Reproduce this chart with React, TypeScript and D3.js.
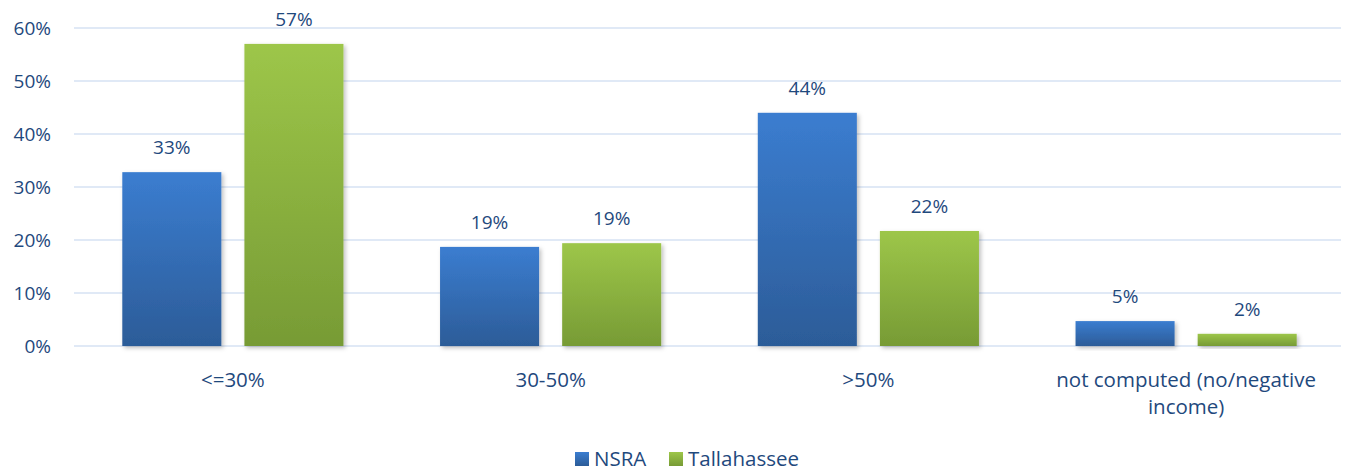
import React from 'react';
import * as d3 from 'd3';

const categories = ['<=30%', '30-50%', '>50%', 'not computed (no/negative income)'];
const categoryLines = [['<=30%'], ['30-50%'], ['>50%'], ['not computed (no/negative', 'income)']];
const seriesNames = ['NSRA', 'Tallahassee'];
const nsra = [0.328, 0.187, 0.44, 0.047];
const tallahassee = [0.57, 0.194, 0.217, 0.023];
const yTicks = [0, 0.1, 0.2, 0.3, 0.4, 0.5, 0.6];

const W = 1346;
const H = 472;
const margin = { left: 74, right: 1, top: 28, bottom: 126 };
const textColor = '#1f497d';
const font = '"Open Sans", "Noto Sans", sans-serif';

const App: React.FC = () => {
  const x = d3.scaleBand<string>()
    .domain(categories)
    .range([margin.left, W - margin.right])
    .paddingInner(0.304)
    .paddingOuter(0.152);
  const sub = d3.scaleBand<string>()
    .domain(seriesNames)
    .range([0, x.bandwidth()])
    .paddingInner(0.189);
  const y = d3.scaleLinear().domain([0, 0.6]).range([H - margin.bottom, margin.top]);
  const fmt = d3.format('.0%');
  const series = [nsra, tallahassee];
  const fills = ['url(#gBlue)', 'url(#gGreen)'];

  return (
    <svg width={W} height={H} style={{ position: 'absolute', left: 0, top: 0 }} fontFamily={font}>
      <defs>
        <linearGradient id="gBlue" x1="0" y1="0" x2="0" y2="1">
          <stop offset="0" stopColor="#3b7dd0" />
          <stop offset="1" stopColor="#2c5c98" />
        </linearGradient>
        <linearGradient id="gGreen" x1="0" y1="0" x2="0" y2="1">
          <stop offset="0" stopColor="#9dc649" />
          <stop offset="1" stopColor="#779b35" />
        </linearGradient>
        <filter id="shadow" x="-10%" y="-10%" width="130%" height="130%">
          <feDropShadow dx="2" dy="2" stdDeviation="2" floodColor="#000" floodOpacity="0.25" />
        </filter>
      </defs>
      {yTicks.map(t => (
        <g key={t}>
          <line x1={margin.left} x2={W - 5} y1={y(t)} y2={y(t)} stroke="#d6e2f3" strokeWidth={1.5} />
          <text x={51} y={y(t)} dy="0.35em" textAnchor="end" fontSize={19} fill={textColor}>{fmt(t)}</text>
        </g>
      ))}
      {categories.map((c, i) => (
        <g key={c}>
          {series.map((s, j) => {
            const bx = (x(c) as number) + (sub(seriesNames[j]) as number);
            const by = y(s[i]);
            return (
              <g key={j}>
                <rect x={bx} y={by} width={sub.bandwidth()} height={y(0) - by} fill={fills[j]} filter="url(#shadow)" />
                <text x={bx + sub.bandwidth() / 2} y={by - 18} textAnchor="middle" fontSize={19} fill={textColor}>{fmt(s[i])}</text>
              </g>
            );
          })}
          <text x={(x(c) as number) + x.bandwidth() / 2} y={y(0) + 41} textAnchor="middle" fontSize={20.5} fill={textColor}>
            {categoryLines[i].map((l, k) => (
              <tspan key={k} x={(x(c) as number) + x.bandwidth() / 2} dy={k === 0 ? 0 : 27}>{l}</tspan>
            ))}
          </text>
        </g>
      ))}
      <g>
        <rect x={575} y={452} width={14} height={14} fill="url(#gBlue)" />
        <text x={594} y={466} fontSize={20.5} fill={textColor}>{seriesNames[0]}</text>
        <rect x={669} y={452} width={14} height={14} fill="url(#gGreen)" />
        <text x={688} y={466} fontSize={20.5} fill={textColor}>{seriesNames[1]}</text>
      </g>
    </svg>
  );
};

export default App;
